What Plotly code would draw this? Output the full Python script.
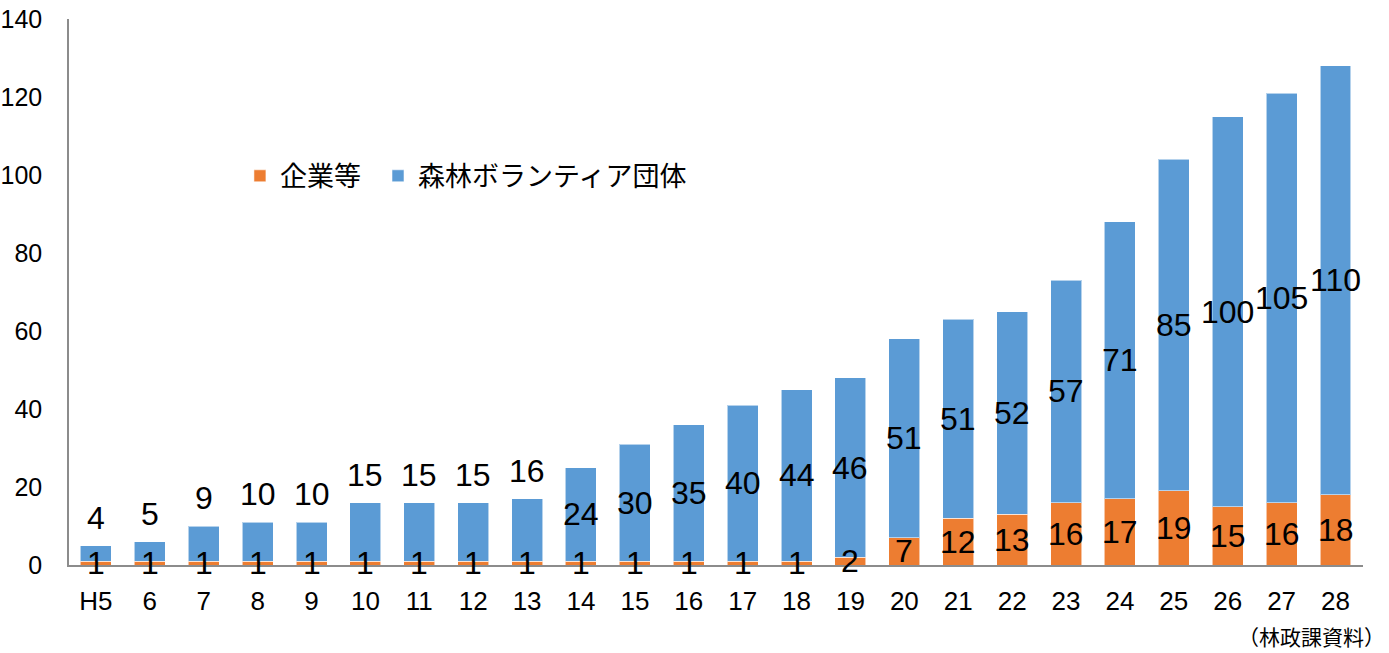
import plotly.graph_objects as go

# Fiscal years (Heisei era)
years = ["H5", "6", "7", "8", "9", "10", "11", "12", "13", "14", "15", "16",
         "17", "18", "19", "20", "21", "22", "23", "24", "25", "26", "27", "28"]

# Number of agreements by type of partner
companies = [1, 1, 1, 1, 1, 1, 1, 1, 1, 1, 1, 1, 1, 1, 2, 7, 12, 13, 16, 17, 19, 15, 16, 18]
volunteer_groups = [4, 5, 9, 10, 10, 15, 15, 15, 16, 24, 30, 35, 40, 44, 46, 51, 51, 52, 57, 71,
                    85, 100, 105, 110]

ORANGE = "#ED7D31"
BLUE = "#5B9BD5"
NUM_FONT = "Liberation Sans, Arial, sans-serif"
JP_FONT = "Noto Sans CJK JP, sans-serif"
LABEL_SIZE = 32

fig = go.Figure()
fig.add_trace(go.Bar(
    x=years, y=companies, name="企業等", legend="legend",
    marker=dict(color=ORANGE, line=dict(color="rgba(255,255,255,0.55)", width=1)),
))
fig.add_trace(go.Bar(
    x=years, y=volunteer_groups, name="森林ボランティア団体", legend="legend2",
    marker=dict(color=BLUE, line=dict(color="rgba(255,255,255,0.55)", width=1)),
))

# Value labels: centred in each segment; short early bars get their
# volunteer-group label lifted above the bar top.
annotations = []
for i, yr in enumerate(years):
    c = companies[i]
    v = volunteer_groups[i]
    annotations.append(dict(x=i, y=c / 2, text=str(c), showarrow=False,
                            xref="x", yref="y", yanchor="middle",
                            font=dict(family=NUM_FONT, size=LABEL_SIZE, color="black")))
    if i < 9:
        annotations.append(dict(x=i, y=c + v, text=str(v), showarrow=False,
                                xref="x", yref="y", yanchor="middle", yshift=28,
                                font=dict(family=NUM_FONT, size=LABEL_SIZE, color="black")))
    else:
        annotations.append(dict(x=i, y=c + v / 2, text=str(v), showarrow=False,
                                xref="x", yref="y", yanchor="middle",
                                font=dict(family=NUM_FONT, size=LABEL_SIZE, color="black")))

annotations.append(dict(x=1, y=-0.13, xref="paper", yref="paper", xanchor="right",
                        yanchor="middle", xshift=24, showarrow=False,
                        text="（林政課資料）",
                        font=dict(family=JP_FONT, size=21, color="black")))

legend_style = dict(orientation="h", y=0.712, xanchor="left", yanchor="middle",
                    font=dict(family=JP_FONT, size=27, color="black"),
                    itemwidth=30, bgcolor="rgba(0,0,0,0)")

fig.update_layout(
    barmode="stack",
    bargap=0.425,
    width=1389, height=653,
    margin=dict(l=69, r=26, t=19, b=88),
    paper_bgcolor="white", plot_bgcolor="white",
    showlegend=True,
    legend=dict(x=0.1321, **legend_style),
    legend2=dict(x=0.2388, **legend_style),
    xaxis=dict(type="category", showline=True, linecolor="#8c8c8c", linewidth=1.5,
               ticks="", automargin=False,
               tickfont=dict(family=NUM_FONT, size=26, color="black"),
               ticklabelstandoff=12),
    yaxis=dict(range=[0, 140], dtick=20, showgrid=False, zeroline=False,
               showline=True, linecolor="#8c8c8c", linewidth=1.5, ticks="",
               automargin=False,
               tickfont=dict(family=NUM_FONT, size=25, color="black"),
               ticklabelstandoff=20),
    annotations=annotations,
)

fig.write_html("out.html")
